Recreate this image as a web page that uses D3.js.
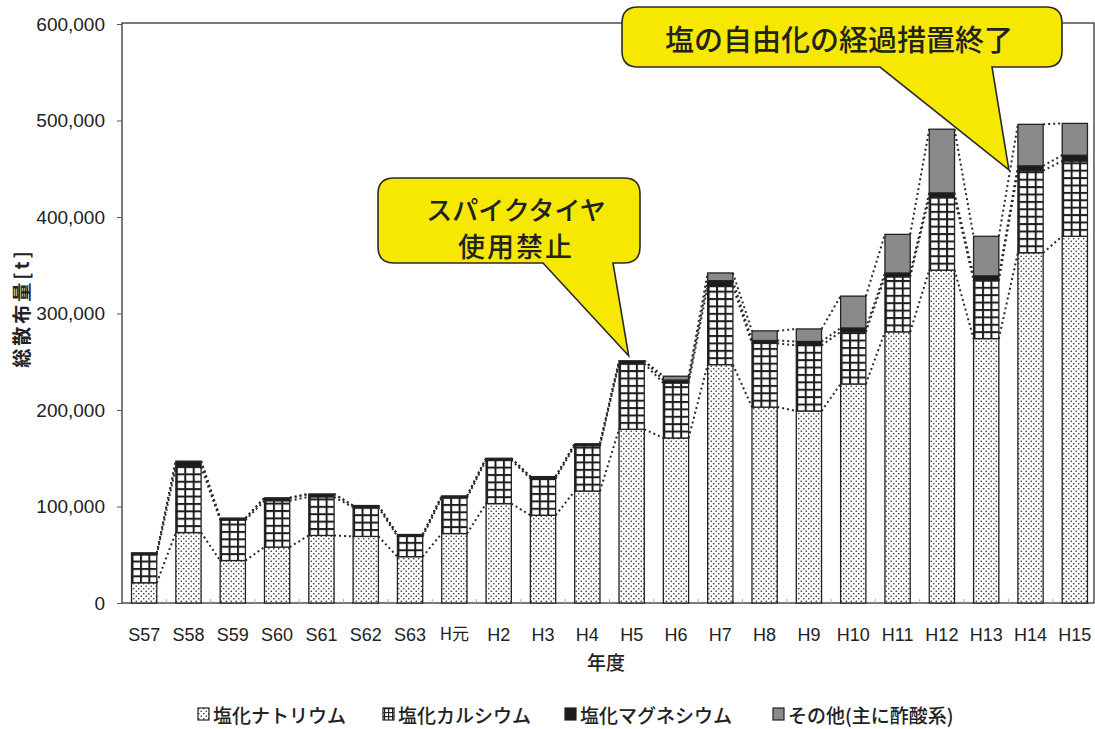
<!DOCTYPE html>
<html><head><meta charset="utf-8">
<script src="https://cdn.jsdelivr.net/npm/d3@7"></script>
<style>
html,body{margin:0;padding:0;background:#fff;}
svg{display:block;}
</style></head>
<body>
<svg id="chart" width="1095" height="729"></svg>
<script>
// ---- data (t) ----
const categories = ["S57","S58","S59","S60","S61","S62","S63","H元","H2","H3","H4","H5","H6","H7","H8","H9","H10","H11","H12","H13","H14","H15"];
const sodium    = [21000,73000,44000,58000,70000,69000,48000,72000,103000,91000,116000,180000,171000,247000,203000,199000,227000,281000,345000,274000,363000,380000];
const calcium   = [29000,68000,42000,48000,40000,30000,21000,37000,45000,38000,47000,68000,57000,81000,66000,68000,54000,57000,75000,60000,85000,78000];
const magnesium = [2000,6000,2000,3000,3000,2000,2000,2000,2000,2000,2000,3000,3000,6000,3000,4000,4000,4000,5000,5000,5000,6000];
const other     = [0,0,0,0,0,0,0,0,0,0,0,0,4000,8000,10000,13000,33000,40000,66000,41000,43000,33000];
const yTicks = [0,100000,200000,300000,400000,500000,600000];
const seriesNames = ["塩化ナトリウム","塩化カルシウム","塩化マグネシウム","その他(主に酢酸系)"];
const yTitle = "総散布量[t]";
const xTitle = "年度";
const note1 = ["スパイクタイヤ","使用禁止"];
const note2 = "塩の自由化の経過措置終了";

(function(){
const svg = d3.select("#chart");
const latin = "'Liberation Sans Narrow','Arial Narrow','Liberation Sans',Arial,sans-serif";
const cjk = "'Noto Sans CJK JP','Noto Sans',sans-serif";

const pL = 122, pR = 1097, pT = 23, pB = 603;
const x = d3.scaleBand().domain(categories).range([pL, pR]).paddingInner(0.43).paddingOuter(0.215);
const y = d3.scaleLinear().domain([0, 600000]).range([pB, 24]);
const bw = x.bandwidth();

const seriesArr = [sodium, calcium, magnesium, other];
const rows = categories.map((c, i) => ({cat: c, i, vals: seriesArr.map(s => s[i])}));
rows.forEach(r => { let acc = 0; r.cum = r.vals.map(v => (acc += v)); });

const defs = svg.append("defs");
const pd = defs.append("pattern").attr("id","dots").attr("patternUnits","userSpaceOnUse").attr("width",5).attr("height",5);
pd.append("rect").attr("width",5).attr("height",5).attr("fill","#fff");
pd.append("circle").attr("cx",1.25).attr("cy",1.25).attr("r",0.8).attr("fill","#2a2a2a");
pd.append("circle").attr("cx",3.75).attr("cy",3.75).attr("r",0.8).attr("fill","#2a2a2a");
rows.forEach(r => {
  const w = bw / 3, h = 7.4;
  const p = defs.append("pattern").attr("id","grid"+r.i).attr("patternUnits","userSpaceOnUse")
    .attr("x", x(r.cat)).attr("y", y(r.cum[0])).attr("width", w).attr("height", h);
  p.append("rect").attr("width", w).attr("height", h).attr("fill","#fff");
  p.append("rect").attr("x",0).attr("y",0).attr("width",2).attr("height",h).attr("fill","#1e1e1e");
  p.append("rect").attr("x",0).attr("y",0).attr("width",w).attr("height",2).attr("fill","#1e1e1e");
});
const lg = defs.append("pattern").attr("id","gridL").attr("patternUnits","userSpaceOnUse").attr("width",4).attr("height",4);
lg.append("rect").attr("width",4).attr("height",4).attr("fill","#fff");
lg.append("rect").attr("width",1.2).attr("height",4).attr("fill","#222");
lg.append("rect").attr("width",4).attr("height",1.2).attr("fill","#222");

const fills = [d => "url(#dots)", d => `url(#grid${d.i})`, d => "#1c1c1c", d => "#8a8a8a"];

svg.append("rect").attr("x", pL).attr("y", pT).attr("width", 1094 - pL).attr("height", pB - pT)
  .attr("fill","none").attr("stroke","#333").attr("stroke-width",1.3);

const g = svg.append("g");
rows.forEach(r => {
  r.vals.forEach((v, k) => {
    if (v <= 0) return;
    const y0 = r.cum[k] - v, y1 = r.cum[k];
    g.append("rect").attr("x", x(r.cat)).attr("y", y(y1)).attr("width", bw).attr("height", y(y0) - y(y1))
      .attr("fill", fills[k](r)).attr("stroke","#222").attr("stroke-width",1.3);
  });
});

const sl = svg.append("g").attr("fill","none").attr("stroke","#2a2a2a").attr("stroke-width",2).attr("stroke-dasharray","2,3");
for (let k = 0; k < 4; k++) {
  for (let i = 0; i < rows.length - 1; i++) {
    const a = rows[i], b = rows[i+1];
    sl.append("line").attr("x1", x(a.cat) + bw).attr("y1", y(a.cum[k]))
      .attr("x2", x(b.cat)).attr("y2", y(b.cum[k]));
  }
}

const ya = svg.append("g").attr("transform",`translate(${pL},0)`)
  .call(d3.axisLeft(y).tickValues(yTicks).tickSize(5).tickSizeOuter(0).tickPadding(12).tickFormat(d3.format(",")));
ya.select(".domain").remove();
ya.selectAll("line").attr("stroke","#555");
ya.selectAll("text").attr("font-family", latin).attr("font-size", 19).attr("fill","#222");

const xa = svg.append("g").attr("transform",`translate(0,${pB})`)
  .call(d3.axisBottom(x).tickSize(0).tickPadding(25));
xa.select(".domain").remove();
xa.selectAll("text").attr("font-family", latin).attr("font-size", 18).attr("fill","#222");
xa.selectAll("text").filter(d => d === "H元").attr("font-family", cjk).attr("font-size", 17);
svg.append("g").selectAll("line").data(categories.slice(1)).join("line")
  .attr("x1", d => x(d) - x.step() * 0.215).attr("x2", d => x(d) - x.step() * 0.215)
  .attr("y1", pB).attr("y2", pB - 4).attr("stroke","#aaa").attr("stroke-width",1);

svg.append("text").attr("transform","translate(20,308) rotate(-90)").attr("text-anchor","middle")
  .attr("dominant-baseline","central").attr("font-family", cjk).attr("font-weight","bold").attr("font-size",19)
  .attr("letter-spacing",3).attr("fill","#222").text(yTitle);
svg.append("text").attr("x", 606).attr("y", 661).attr("text-anchor","middle").attr("dominant-baseline","central")
  .attr("font-family", cjk).attr("font-weight",500).attr("font-size",19).attr("fill","#222").text(xTitle);

const legX = [[198,213],[383,398],[565,580],[773,788]];
const legFill = ["url(#dots)","url(#gridL)","#1c1c1c","#8a8a8a"];
seriesNames.forEach((n, k) => {
  svg.append("rect").attr("x", legX[k][0]).attr("y", 708).attr("width",11).attr("height",12)
    .attr("fill", legFill[k]).attr("stroke","#222").attr("stroke-width",1.2);
  svg.append("text").attr("x", legX[k][1]).attr("y", 714).attr("dominant-baseline","central")
    .attr("font-family", cjk).attr("font-weight",500).attr("font-size",19).attr("fill","#222").text(n);
});

function callout(bx0, by0, bx1, by1, r, t0, t1, tip) {
  const p = d3.path();
  p.moveTo(bx0 + r, by0);
  p.lineTo(bx1 - r, by0); p.quadraticCurveTo(bx1, by0, bx1, by0 + r);
  p.lineTo(bx1, by1 - r); p.quadraticCurveTo(bx1, by1, bx1 - r, by1);
  p.lineTo(t1, by1); p.lineTo(tip[0], tip[1]); p.lineTo(t0, by1);
  p.lineTo(bx0 + r, by1); p.quadraticCurveTo(bx0, by1, bx0, by1 - r);
  p.lineTo(bx0, by0 + r); p.quadraticCurveTo(bx0, by0, bx0 + r, by0);
  p.closePath();
  svg.append("path").attr("d", p.toString()).attr("fill","#f6e800").attr("stroke","#2a2a2a").attr("stroke-width",1.6);
}
const iH5 = categories.indexOf("H5");
callout(378, 178, 640, 263, 16, 543, 613, [x("H5") + bw/2 - 3, y(rows[iH5].cum[3]) - 5]);
svg.append("text").attr("x", 516).attr("y", 208).attr("text-anchor","middle").attr("dominant-baseline","central")
  .attr("font-family", cjk).attr("font-weight",500).attr("font-size",26).attr("fill","#222").text(note1[0]);
svg.append("text").attr("x", 516).attr("y", 245).attr("text-anchor","middle").attr("dominant-baseline","central")
  .attr("font-family", cjk).attr("font-weight",500).attr("font-size",27).attr("letter-spacing",2).attr("fill","#222").text(note1[1]);

const iH14 = categories.indexOf("H14");
callout(622, 7, 1062, 67, 16, 880, 992, [x("H14") - 9, y(rows[iH14].cum[2]) + 4]);
svg.append("text").attr("x", 839).attr("y", 38).attr("text-anchor","middle").attr("dominant-baseline","central")
  .attr("font-family", cjk).attr("font-weight",500).attr("font-size",29).attr("fill","#222").text(note2);
})();
</script>
</body></html>
